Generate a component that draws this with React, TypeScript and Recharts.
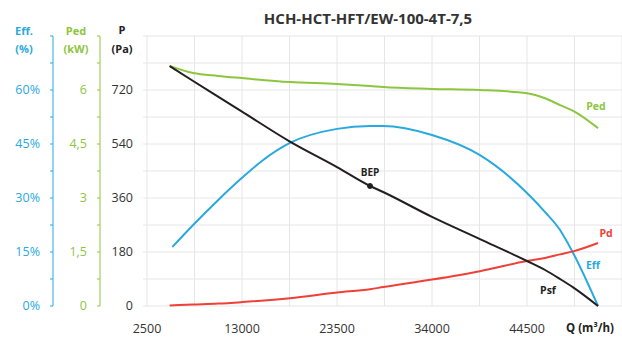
import React from 'react';
import { LineChart, Line, XAxis, YAxis, CartesianGrid, ReferenceDot } from 'recharts';

const Q_VALUES = [5000, 5300, 7600, 10350, 13000, 15200, 18300, 23500, 27150, 28600, 34000, 39300, 44500, 46500, 48150, 49600, 52350];
const PSF_VALUES = [800, null, 750, 698, 648, null, 548, 463, 400, 380, 297, 223, 150, 120, 90, 62, 0];
const PD_VALUES = [2, null, 5, 8, 13, null, 26, 45, 56, 63, 88, 116, 150, 160, 172, 182, 210];
const PED_VALUES = [6.67, null, 6.47, 6.39, 6.33, null, 6.22, 6.17, 6.11, 6.08, 6.03, 6.0, 5.91, 5.77, 5.58, 5.42, 4.94];
const EFF_VALUES = [null, 16.4, 22.5, 29.4, 35.6, 40.3, 45.3, 49.2, 50.0, 50.0, 47.5, 41.9, 31.4, 26.1, 21.1, 14.7, 0];

const BEP_Q = 27150;
const BEP_P = 400;

const X_TICKS = [2500, 7750, 13000, 18250, 23500, 28750, 34000, 39250, 44500, 49750, 55000];
const X_LABELS = [2500, 13000, 23500, 34000, 44500];
const P_TICKS = [0, 90, 180, 270, 360, 450, 540, 630, 720, 810, 900];
const P_LABELS = [0, 180, 360, 540, 720];
const PED_TICKS = [0, 0.75, 1.5, 2.25, 3, 3.75, 4.5, 5.25, 6, 6.75, 7.5];
const PED_LABELS = [0, 1.5, 3, 4.5, 6];
const EFF_TICKS = [0, 7.5, 15, 22.5, 30, 37.5, 45, 52.5, 60, 67.5, 75];
const EFF_LABELS = [0, 15, 30, 45, 60];

const rows = Q_VALUES.map((q, i) => ({
  q,
  psf: PSF_VALUES[i],
  pd: PD_VALUES[i],
  ped: PED_VALUES[i],
  eff: EFF_VALUES[i],
}));

const BLUE = '#29a9df';
const GREEN = '#8cc63f';
const RED = '#ee4036';
const BLACK = '#231f20';
const GRID = '#e6e6e6';
const FONT = "'Open Sans', sans-serif";

// axis ids chosen so that Recharts stacks them: a (P, innermost), b (Ped), c (Eff, outermost)
const P_AXIS = 'a';
const PED_AXIS = 'b';
const EFF_AXIS = 'c';

const Txt = ({ x, y, color, size, bold = true, children }: any) => (
  <div
    style={{
      position: 'absolute',
      left: x,
      top: y,
      transform: 'translate(-50%, -50%)',
      color,
      fontSize: size,
      fontWeight: bold ? 700 : 400,
      fontFamily: FONT,
      lineHeight: 1,
      whiteSpace: 'nowrap',
    }}
  >
    {children}
  </div>
);

export default function App() {
  return (
    <div style={{ position: 'absolute', left: 0, top: 0, width: 622, height: 338, background: '#fff', overflow: 'hidden' }}>
      <LineChart width={622} height={338} data={rows} margin={{ top: 36, right: 0, bottom: 0, left: 5 }}>
        <CartesianGrid stroke={GRID} strokeWidth={1} yAxisId={P_AXIS} horizontalValues={P_TICKS} verticalValues={X_TICKS} />
        <XAxis
          dataKey="q"
          type="number"
          domain={[2500, 55000]}
          ticks={X_TICKS}
          interval={0}
          height={32}
          axisLine={false}
          tickLine={false}
          tickSize={0}
          tickMargin={18}
          tickFormatter={(v: number) => (X_LABELS.includes(v) ? String(v) : '')}
          tick={{ fill: '#333', fontSize: 12.5, fontFamily: FONT }}
        />
        <YAxis
          yAxisId={P_AXIS}
          type="number"
          domain={[0, 900]}
          ticks={P_TICKS}
          interval={0}
          width={47}
          axisLine={false}
          tickLine={{ stroke: GRID }}
          tickSize={4}
          tickMargin={10}
          tickFormatter={(v: number) => (P_LABELS.includes(v) ? String(v) : '')}
          tick={{ fill: '#333', fontSize: 12.5, fontFamily: FONT }}
        />
        <YAxis
          yAxisId={PED_AXIS}
          type="number"
          domain={[0, 7.5]}
          ticks={PED_TICKS}
          interval={0}
          width={47}
          axisLine={{ stroke: GREEN, strokeWidth: 1 }}
          tickLine={{ stroke: GREEN }}
          tickSize={3}
          tickMargin={10}
          tickFormatter={(v: number) => (PED_LABELS.includes(v) ? String(v).replace('.', ',') : '')}
          tick={{ fill: GREEN, fontSize: 12.5, fontFamily: FONT }}
        />
        <YAxis
          yAxisId={EFF_AXIS}
          type="number"
          domain={[0, 75]}
          ticks={EFF_TICKS}
          interval={0}
          width={48}
          axisLine={{ stroke: BLUE, strokeWidth: 1 }}
          tickLine={{ stroke: BLUE }}
          tickSize={3}
          tickMargin={10}
          tickFormatter={(v: number) => (EFF_LABELS.includes(v) ? `${v}%` : '')}
          tick={{ fill: BLUE, fontSize: 12.5, fontFamily: FONT }}
        />
        <Line yAxisId={PED_AXIS} dataKey="ped" type="monotone" stroke={GREEN} strokeWidth={2} dot={false} connectNulls isAnimationActive={false} />
        <Line yAxisId={EFF_AXIS} dataKey="eff" type="monotone" stroke={BLUE} strokeWidth={2} dot={false} connectNulls isAnimationActive={false} />
        <Line yAxisId={P_AXIS} dataKey="pd" type="monotone" stroke={RED} strokeWidth={2} dot={false} connectNulls isAnimationActive={false} />
        <Line yAxisId={P_AXIS} dataKey="psf" type="monotone" stroke={BLACK} strokeWidth={2} dot={false} connectNulls isAnimationActive={false} />
        <ReferenceDot
          yAxisId={P_AXIS}
          x={BEP_Q}
          y={BEP_P}
          r={2.5}
          fill={BLACK}
          stroke={BLACK}
          label={{ value: 'BEP', position: 'top', offset: 8, fill: BLACK, fontSize: 10, fontWeight: 700, fontFamily: FONT }}
        />
      </LineChart>
      <Txt x={368} y={18} color="#333" size={15}>HCH-HCT-HFT/EW-100-4T-7,5</Txt>
      <Txt x={24} y={30} color={BLUE} size={11}>Eff.</Txt>
      <Txt x={24} y={48} color={BLUE} size={11}>(%)</Txt>
      <Txt x={76} y={30} color={GREEN} size={11}>Ped</Txt>
      <Txt x={76} y={48} color={GREEN} size={11}>(kW)</Txt>
      <Txt x={122} y={29} color="#222" size={11}>P</Txt>
      <Txt x={122} y={48} color="#222" size={11}>(Pa)</Txt>
      <Txt x={596} y={106} color={GREEN} size={10.5}>Ped</Txt>
      <Txt x={606} y={233} color={RED} size={10.5}>Pd</Txt>
      <Txt x={593} y={265} color={BLUE} size={10.5}>Eff</Txt>
      <Txt x={548} y={290} color="#222" size={10.5}>Psf</Txt>
      <Txt x={590} y={328} color="#222" size={11.5}>Q (m³/h)</Txt>
    </div>
  );
}
